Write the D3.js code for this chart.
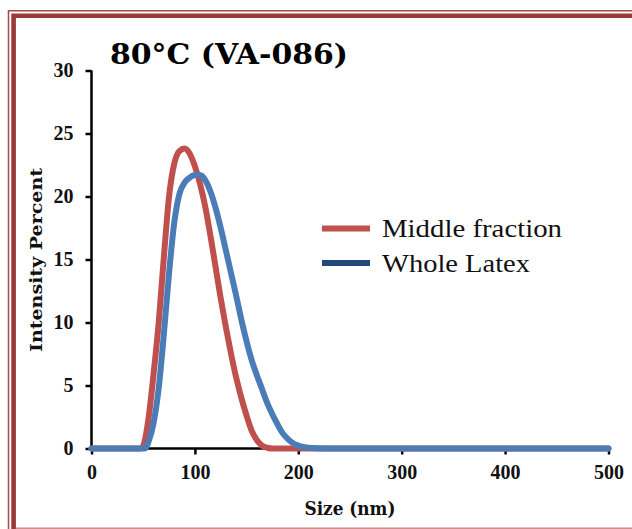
<!DOCTYPE html>
<html>
<head>
<meta charset="utf-8">
<script src="https://cdn.jsdelivr.net/npm/d3@7"></script>
<style>
  html, body { margin: 0; padding: 0; background: #ffffff; }
  svg { display: block; }
</style>
</head>
<body>
<svg id="chart" width="632" height="529"></svg>
<script>
// Particle size distribution, 80°C (VA-086)
const middleSize = [0, 47, 50, 52, 55, 60, 65, 70, 75, 80, 85, 90, 95, 100, 105, 110, 115, 120, 125, 130, 135, 140, 145, 150, 155, 160, 165, 170, 175, 500];
const middleIntensity = [0, 0, 0.2, 0.8, 2.3, 5.9, 10.0, 15.2, 20.0, 22.6, 23.6, 23.8, 23.4, 22.4, 21.0, 19.2, 16.9, 14.4, 11.9, 9.6, 7.5, 5.6, 4.0, 2.6, 1.4, 0.65, 0.22, 0.06, 0, 0];

const wholeSize = [0, 52, 55, 60, 65, 70, 75, 80, 85, 90, 95, 100, 105, 110, 115, 120, 125, 130, 135, 140, 145, 150, 155, 160, 165, 170, 175, 180, 185, 190, 195, 200, 205, 210, 220, 230, 500];
const wholeIntensity = [0, 0, 0.5, 2.0, 4.8, 9.1, 13.9, 17.9, 20.2, 21.1, 21.5, 21.7, 21.7, 21.3, 20.4, 19.1, 17.5, 15.7, 13.9, 12.1, 10.2, 8.5, 7.0, 5.8, 4.7, 3.6, 2.7, 1.9, 1.2, 0.75, 0.42, 0.23, 0.12, 0.06, 0.02, 0, 0];

const xTicks = [0, 100, 200, 300, 400, 500];
const yTicks = [0, 5, 10, 15, 20, 25, 30];
const seriesNames = ["Middle fraction", "Whole Latex"];
const titleText = "80°C (VA-086)";
const xTitle = "Size (nm)";
const yTitle = "Intensity Percent";

const svg = d3.select("#chart");
const serif = "'Liberation Serif', 'DejaVu Serif', serif";
const serifBold = "'DejaVu Serif', 'Liberation Serif', serif";
const red = "#c0504d";
const blue = "#4a7db8";
const blueKey = "#23497a";
const frame = "#983a38";

// Page frame: thin outer rule, thick inner rule, pale bottom rule
svg.append("path").attr("d", "M8.5,529 V10.8 H632")
  .attr("fill", "none").attr("stroke", "#a44a48").attr("stroke-width", 1.5);
svg.append("path").attr("d", "M13.6,529 V15.8 H632")
  .attr("fill", "none").attr("stroke", frame).attr("stroke-width", 4.6);
svg.append("line").attr("x1", 16).attr("x2", 632).attr("y1", 528.2).attr("y2", 528.2)
  .attr("stroke", "#d08a88").attr("stroke-width", 1.5);

const x = d3.scaleLinear().domain([0, 500]).range([91.5, 608.5]);
const y = d3.scaleLinear().domain([0, 30]).range([448.5, 70.5]);

// Axes
const xAxis = d3.axisBottom(x).tickValues(xTicks).tickSize(6).tickPadding(10);
const yAxis = d3.axisLeft(y).tickValues(yTicks).tickSize(6).tickPadding(12);

const gx = svg.append("g").attr("transform", `translate(0,${y(0)})`).call(xAxis);
const gy = svg.append("g").attr("transform", `translate(${x(0)},0)`).call(yAxis);
[gx, gy].forEach(g => {
  g.select(".domain").attr("stroke", "#000").attr("stroke-width", 2.5);
  g.selectAll(".tick line").attr("stroke", "#000").attr("stroke-width", 2.5);
  g.selectAll(".tick text").attr("fill", "#111")
    .style("font-family", serif).style("font-weight", "bold").style("font-size", "20px");
});
gy.select(".domain").attr("d", `M0,${y(30)}V${y(0)}`);
gx.select(".domain").attr("d", `M${x(0)},0H${x(500)}`);

// Curves
const line = d3.line().x(d => x(d[0])).y(d => y(d[1])).curve(d3.curveMonotoneX);
const middle = middleSize.map((s, i) => [s, middleIntensity[i]]);
const whole = wholeSize.map((s, i) => [s, wholeIntensity[i]]);

svg.append("path").datum(middle).attr("d", line)
  .attr("fill", "none").attr("stroke", red).attr("stroke-width", 6)
  .attr("stroke-linejoin", "round").attr("stroke-linecap", "round");
svg.append("path").datum(whole).attr("d", line)
  .attr("fill", "none").attr("stroke", blue).attr("stroke-width", 6)
  .attr("stroke-linejoin", "round").attr("stroke-linecap", "round");

// Title
svg.append("text").attr("x", 110).attr("y", 64)
  .attr("textLength", 238).attr("lengthAdjust", "spacingAndGlyphs")
  .style("font-family", serifBold).style("font-weight", "bold").style("font-size", "28px")
  .attr("fill", "#000").text(titleText);

// Axis titles
svg.append("text").attr("x", 350).attr("y", 515).attr("text-anchor", "middle")
  .attr("textLength", 91).attr("lengthAdjust", "spacingAndGlyphs")
  .style("font-family", serifBold).style("font-weight", "bold").style("font-size", "18px")
  .attr("fill", "#111").text(xTitle);
svg.append("text").attr("transform", "translate(42,260) rotate(-90)").attr("text-anchor", "middle")
  .attr("textLength", 184).attr("lengthAdjust", "spacingAndGlyphs")
  .style("font-family", serifBold).style("font-weight", "bold").style("font-size", "17px")
  .attr("fill", "#111").text(yTitle);

// Legend
const legend = [
  { name: seriesNames[0], color: red, y: 228.5, width: 180 },
  { name: seriesNames[1], color: blueKey, y: 263, width: 148 }
];
const lg = svg.append("g");
legend.forEach(d => {
  lg.append("line").attr("x1", 322).attr("x2", 370).attr("y1", d.y).attr("y2", d.y)
    .attr("stroke", d.color).attr("stroke-width", 6);
  lg.append("text").attr("x", 382).attr("y", d.y + 8.5)
    .attr("textLength", d.width).attr("lengthAdjust", "spacingAndGlyphs")
    .style("font-family", serif).style("font-size", "25px").attr("fill", "#111").text(d.name);
});
</script>
</body>
</html>
